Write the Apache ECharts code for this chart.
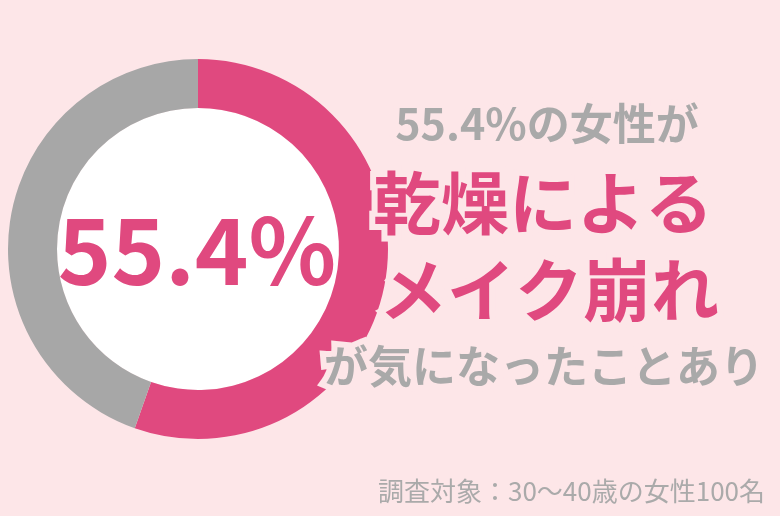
<!DOCTYPE html>
<html>
<head>
<meta charset="utf-8">
<script src="https://cdn.jsdelivr.net/npm/echarts@6/dist/echarts.min.js"></script>
<style>
  html, body { margin: 0; padding: 0; background: #fde6e8; }
  #chart { width: 780px; height: 516px; }
</style>
</head>
<body>
<div id="chart"></div>
<script>
// Data
const categories = ['気になったことあり', 'その他'];
const values = [55.4, 44.6];
const colors = ['#e0497f', '#a7a7a7'];
const centerLabel = '55.4%';
const headLines = ['55.4%の女性が', '乾燥による', 'メイク崩れ', 'が気になったことあり'];
const footnote = '調査対象：30〜40歳の女性100名';

const BG = '#fde6e8';
const FONT = '"Noto Sans CJK JP", "Noto Sans", sans-serif';

// text with a background-coloured halo
function haloText(text, x, y, size, color, weight, align) {
  return {
    type: 'text',
    x: x,
    y: y,
    z: 10,
    style: {
      text: text,
      fill: color,
      stroke: BG,
      lineWidth: 12,
      strokeFirst: true,
      font: weight + ' ' + size + 'px ' + FONT,
      textAlign: align || 'center',
      textVerticalAlign: 'middle'
    }
  };
}

const chart = echarts.init(document.getElementById('chart'));
chart.setOption({
  backgroundColor: BG,
  animation: false,
  series: [{
    type: 'pie',
    center: [198, 249],
    radius: [141, 190],
    startAngle: 90,
    clockwise: true,
    silent: true,
    label: { show: false },
    labelLine: { show: false },
    itemStyle: { borderWidth: 0 },
    data: categories.map((c, i) => ({
      name: c,
      value: values[i],
      itemStyle: { color: colors[i] }
    }))
  }],
  graphic: [
    { type: 'circle', shape: { cx: 198, cy: 249, r: 141 }, style: { fill: '#fff' }, z: 1 },
    {
      type: 'text', x: 197, y: 250, z: 5,
      style: {
        text: centerLabel, fill: colors[0],
        font: 'bold 91px ' + FONT,
        textAlign: 'center', textVerticalAlign: 'middle'
      }
    },
    haloText(headLines[0], 547, 124, 43, '#a9a9a9', 'bold'),
    haloText(headLines[1], 543, 203, 68, colors[0], 'bold'),
    haloText(headLines[2], 549, 290, 68, colors[0], 'bold'),
    haloText(headLines[3], 544, 366, 44, '#a9a9a9', 'bold'),
    {
      type: 'text', x: 765, y: 491, z: 5,
      style: {
        text: footnote, fill: '#aaaaaa',
        font: '26px ' + FONT,
        textAlign: 'right', textVerticalAlign: 'middle'
      }
    }
  ]
});
</script>
</body>
</html>
